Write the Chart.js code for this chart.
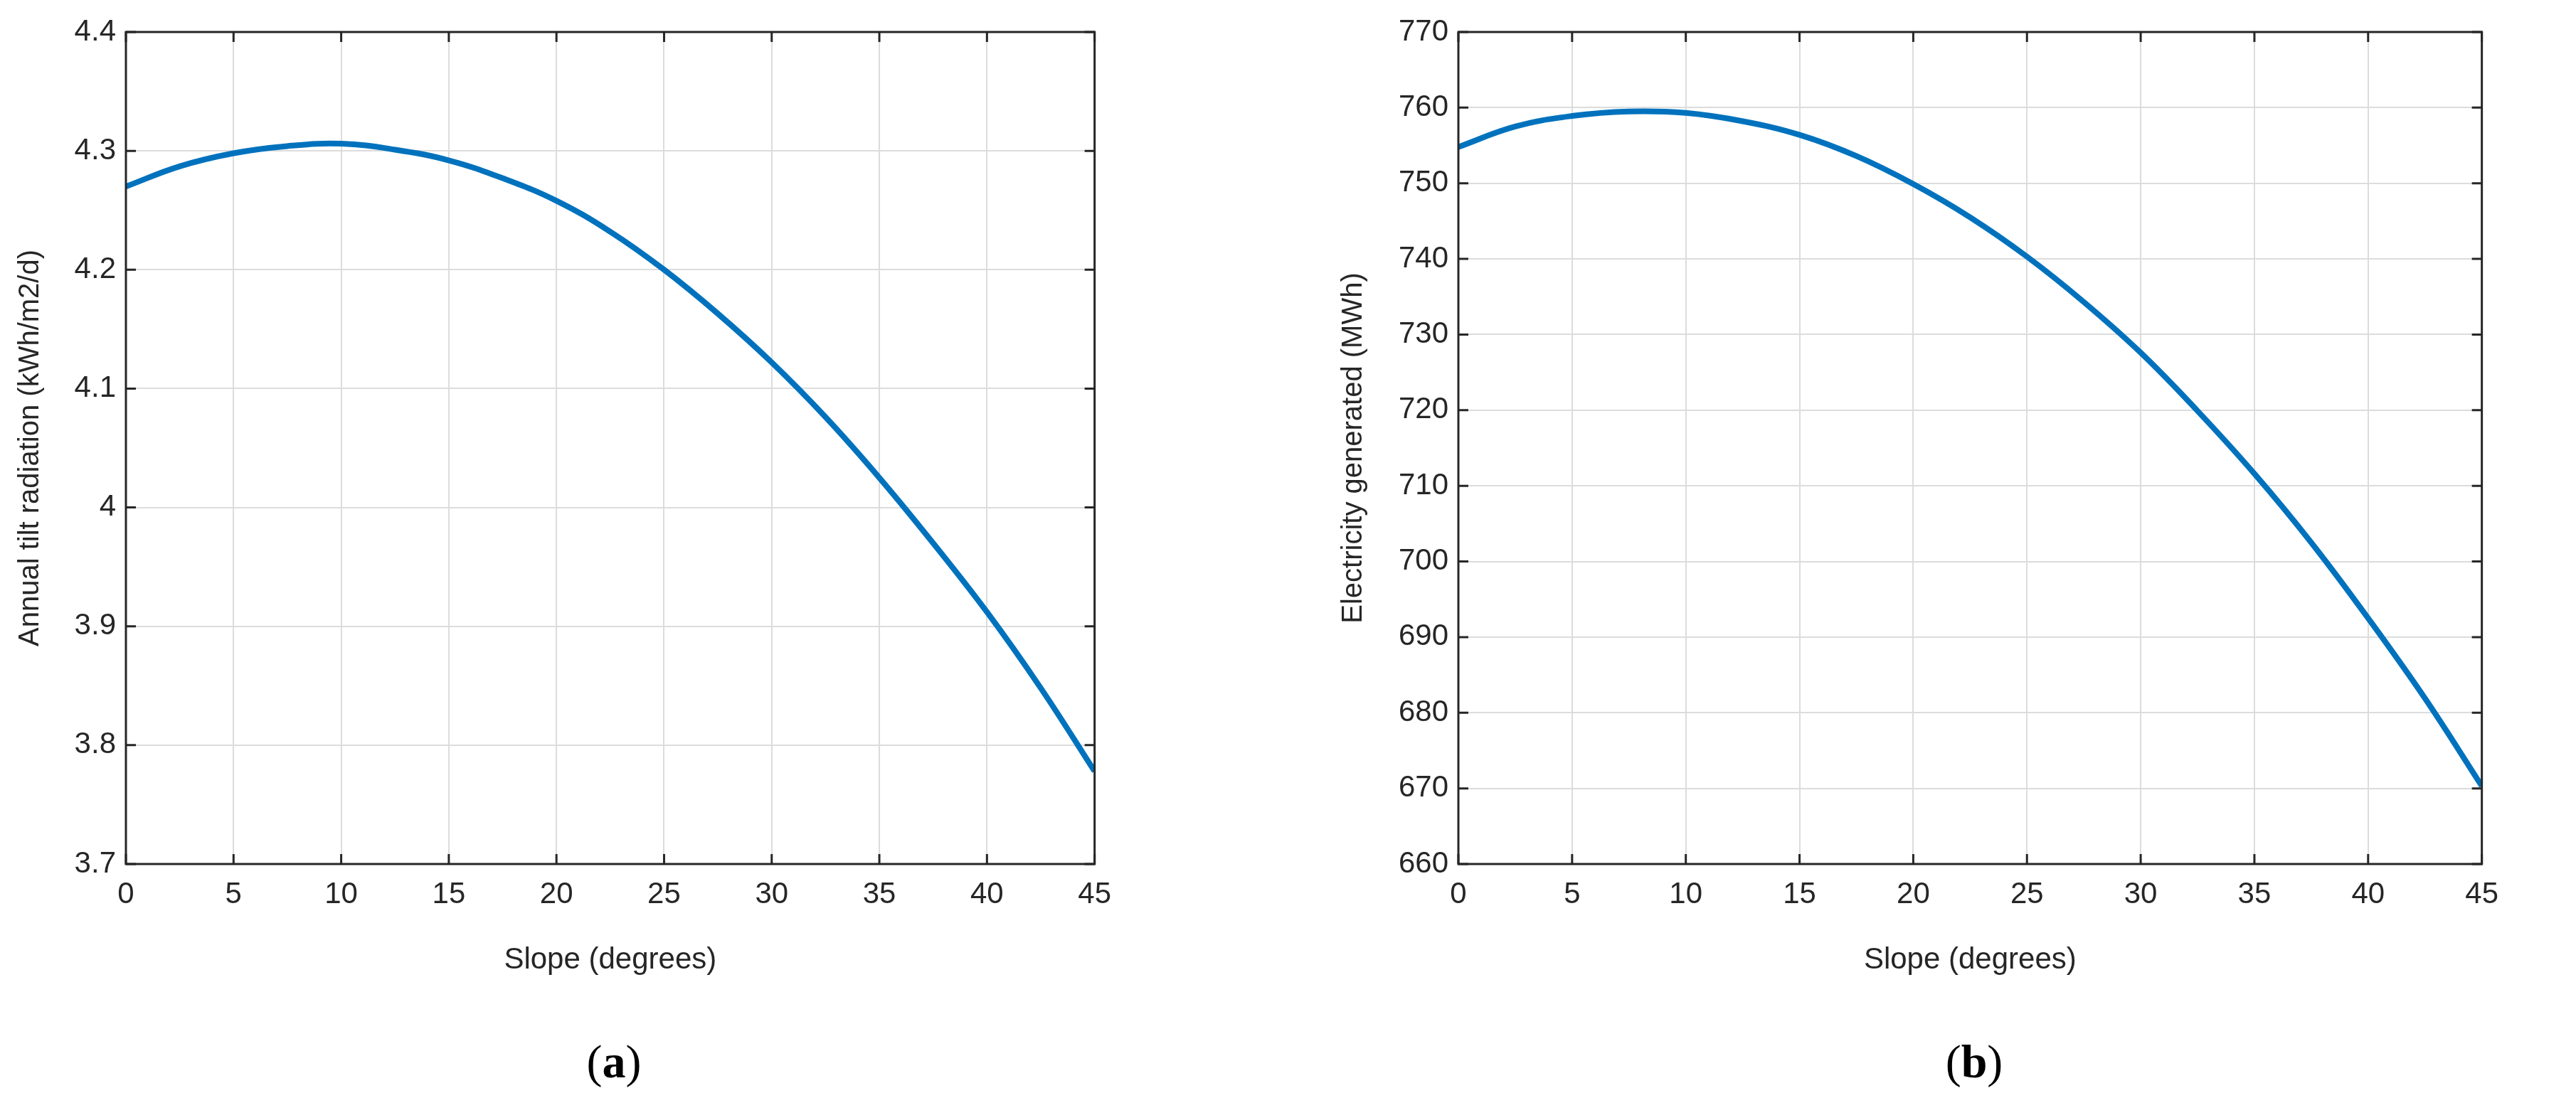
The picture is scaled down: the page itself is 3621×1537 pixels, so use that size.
<!DOCTYPE html>
<html>
<head>
<meta charset="utf-8">
<script src="https://cdn.jsdelivr.net/npm/chart.js@4.4.0/dist/chart.umd.min.js"></script>
<style>
  body { margin: 0; background: #fff; width: 3621px; height: 1537px; position: relative; overflow: hidden; }
  .box { position: absolute; top: 0; height: 1380px; }
  .cap { position: absolute; top: 1455px; font-family: "Liberation Serif", serif; font-size: 66px; color: #000; transform: translateX(-50%); }
</style>
</head>
<body>
<div class="box" style="left:15px;width:1565px"><canvas id="chartA"></canvas></div>
<div class="box" style="left:1875px;width:1655px"><canvas id="chartB"></canvas></div>
<div class="cap" style="left:863px">(<b>a</b>)</div>
<div class="cap" style="left:2775px">(<b>b</b>)</div>
<script>
const slope = [0, 2.5, 5, 7.5, 10, 12.5, 15, 17.5, 20, 22.5, 25, 27.5, 30, 32.5, 35, 37.5, 40, 42.5, 45];
const radiation = [4.270, 4.287, 4.298, 4.304, 4.306, 4.301, 4.292, 4.277, 4.258, 4.232, 4.200, 4.163, 4.122, 4.076, 4.025, 3.970, 3.912, 3.848, 3.778];
const electricity = [754.8, 757.5, 758.9, 759.5, 759.3, 758.2, 756.4, 753.6, 749.9, 745.5, 740.3, 734.3, 727.6, 719.9, 711.6, 702.5, 692.5, 681.9, 670.3];
const xTicks = [0, 5, 10, 15, 20, 25, 30, 35, 40, 45];

const tickFont = { family: "'Liberation Sans Narrow', 'Liberation Sans', Arial, sans-serif", size: 42 };

// MATLAB-style frame with inward ticks on all four sides
const framePlugin = {
  id: 'frame',
  afterDraw(chart) {
    const { ctx, chartArea: a, scales } = chart;
    ctx.save();
    ctx.strokeStyle = '#262626';
    ctx.lineWidth = 3;
    ctx.strokeRect(a.left, a.top, a.right - a.left, a.bottom - a.top);
    const len = 14;
    scales.x.ticks.forEach(t => {
      const px = scales.x.getPixelForValue(t.value);
      ctx.beginPath();
      ctx.moveTo(px, a.bottom); ctx.lineTo(px, a.bottom - len);
      ctx.moveTo(px, a.top); ctx.lineTo(px, a.top + len);
      ctx.stroke();
    });
    scales.y.ticks.forEach(t => {
      const py = scales.y.getPixelForValue(t.value);
      ctx.beginPath();
      ctx.moveTo(a.left, py); ctx.lineTo(a.left + len, py);
      ctx.moveTo(a.right, py); ctx.lineTo(a.right - len, py);
      ctx.stroke();
    });
    ctx.restore();
  }
};

function makeChart(id, values, yMin, yMax, yStep, yTitle, yWidth, fmt) {
  new Chart(document.getElementById(id), {
    type: 'scatter',
    data: {
      datasets: [{
        data: slope.map((x, i) => ({ x, y: values[i] })),
        showLine: true,
        borderColor: '#0072bd',
        borderWidth: 8,
        pointRadius: 0,
        tension: 0.4
      }]
    },
    options: {
      responsive: true,
      maintainAspectRatio: false,
      animation: false,
      layout: { padding: { top: 45, right: 30 } },
      plugins: { legend: { display: false }, tooltip: { enabled: false } },
      scales: {
        x: {
          type: 'linear', min: 0, max: 45,
          afterBuildTicks: s => { s.ticks = xTicks.map(v => ({ value: v })); },
          afterFit: s => { s.height = 165; },
          grid: { color: '#dcdcdc', lineWidth: 2, drawTicks: false },
          border: { display: false },
          ticks: { color: '#262626', font: tickFont, padding: 18, maxRotation: 0 },
          title: { display: true, text: 'Slope (degrees)', color: '#262626', font: tickFont, padding: { top: 8 } }
        },
        y: {
          min: yMin, max: yMax,
          afterFit: s => { s.width = yWidth; },
          grid: { color: '#dcdcdc', lineWidth: 2, drawTicks: false },
          border: { display: false },
          ticks: { stepSize: yStep, color: '#262626', font: tickFont, padding: 14, callback: fmt },
          title: { display: true, text: yTitle, color: '#262626', font: { family: "'Liberation Sans', Arial, sans-serif", size: 40 }, padding: { bottom: 10 } }
        }
      }
    },
    plugins: [framePlugin]
  });
}

makeChart('chartA', radiation, 3.7, 4.4, 0.1, 'Annual tilt radiation (kWh/m2/d)', 162,
  v => { const r = Math.round(v * 10) / 10; return r === 4 ? '4' : r.toFixed(1); });
makeChart('chartB', electricity, 660, 770, 10, 'Electricity generated (MWh)', 175,
  v => String(Math.round(v)));
</script>
</body>
</html>
